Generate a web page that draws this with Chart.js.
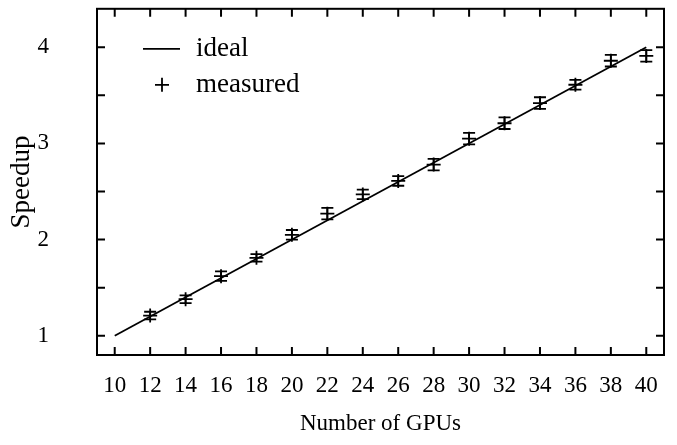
<!DOCTYPE html>
<html>
<head>
<meta charset="utf-8">
<style>
  html, body { margin: 0; padding: 0; background: #fff; }
  #wrap { width: 677px; height: 445px; }
</style>
</head>
<body>
<div id="wrap"><canvas id="speedupChart" width="677" height="445"></canvas></div>

<script src="https://cdn.jsdelivr.net/npm/chart.js"></script>
<script>
    // data
    const gpuCounts = [12, 14, 16, 18, 20, 22, 24, 26, 28, 30, 32, 34, 36, 38, 40];
    const measuredSpeedup = [1.21, 1.38, 1.62, 1.81, 2.05, 2.27, 2.47, 2.61, 2.78, 3.05, 3.21, 3.42, 3.61, 3.86, 3.91];
    const measuredError = [0.04, 0.04, 0.05, 0.04, 0.05, 0.06, 0.05, 0.05, 0.06, 0.06, 0.06, 0.06, 0.05, 0.06, 0.06];
    const idealGpus = [10, 40];
    const idealSpeedup = [1, 4];
    const xTickValues = [10, 12, 14, 16, 18, 20, 22, 24, 26, 28, 30, 32, 34, 36, 38, 40];
    const yTickValues = [1, 1.5, 2, 2.5, 3, 3.5, 4];
    const yLabelValues = [1, 2, 3, 4];

    const FONT = 'Liberation Serif';
    const INK = '#000';

    // error bars for the measured series
    const errorBarPlugin = {
        id: 'errorBars',
        afterDatasetsDraw(chart) {
            const {ctx, scales: {x, y}} = chart;
            ctx.save();
            ctx.strokeStyle = INK;
            ctx.lineWidth = 1.8;
            gpuCounts.forEach((g, i) => {
                const px = x.getPixelForValue(g);
                const top = y.getPixelForValue(measuredSpeedup[i] + measuredError[i]);
                const bot = y.getPixelForValue(measuredSpeedup[i] - measuredError[i]);
                ctx.beginPath();
                ctx.moveTo(px, top); ctx.lineTo(px, bot);
                ctx.moveTo(px - 6, top); ctx.lineTo(px + 6, top);
                ctx.moveTo(px - 6, bot); ctx.lineTo(px + 6, bot);
                ctx.stroke();
            });
            ctx.restore();
        }
    };

    // gnuplot style frame with inward ticks on all four sides, plus the legend
    const framePlugin = {
        id: 'frame',
        afterDraw(chart) {
            const {ctx, chartArea: a, scales: {x, y}} = chart;
            const tl = 8;
            ctx.save();
            ctx.strokeStyle = INK;
            ctx.lineWidth = 2;
            ctx.strokeRect(a.left, a.top, a.right - a.left, a.bottom - a.top);
            ctx.beginPath();
            xTickValues.forEach(v => {
                const px = x.getPixelForValue(v);
                ctx.moveTo(px, a.bottom); ctx.lineTo(px, a.bottom - tl);
                ctx.moveTo(px, a.top); ctx.lineTo(px, a.top + tl);
            });
            yTickValues.forEach(v => {
                const py = y.getPixelForValue(v);
                ctx.moveTo(a.left, py); ctx.lineTo(a.left + tl, py);
                ctx.moveTo(a.right, py); ctx.lineTo(a.right - tl, py);
            });
            ctx.stroke();

            // legend
            const lx = a.left + 46, ly1 = a.top + 40, ly2 = a.top + 76;
            ctx.lineWidth = 1.8;
            ctx.beginPath();
            ctx.moveTo(lx, ly1); ctx.lineTo(lx + 37, ly1);
            ctx.moveTo(lx + 12, ly2); ctx.lineTo(lx + 26, ly2);
            ctx.moveTo(lx + 19, ly2 - 7); ctx.lineTo(lx + 19, ly2 + 7);
            ctx.stroke();
            ctx.fillStyle = INK;
            ctx.font = '27px "' + FONT + '"';
            ctx.textBaseline = 'middle';
            ctx.textAlign = 'left';
            ctx.fillText('ideal', lx + 53, ly1);
            ctx.fillText('measured', lx + 53, ly2);
            ctx.restore();
        }
    };

    function initSpeedupChart() {
        const ctx = document.getElementById('speedupChart');
        new Chart(ctx.getContext('2d'), {
            type: 'scatter',
            data: {
                datasets: [
                    {
                        label: 'ideal',
                        type: 'line',
                        data: idealGpus.map((g, i) => ({x: g, y: idealSpeedup[i]})),
                        borderColor: INK,
                        borderWidth: 1.8,
                        pointRadius: 0,
                        tension: 0,
                        fill: false
                    },
                    {
                        label: 'measured',
                        data: gpuCounts.map((g, i) => ({x: g, y: measuredSpeedup[i]})),
                        pointStyle: 'cross',
                        pointRadius: 7,
                        borderColor: INK,
                        borderWidth: 1.8,
                        backgroundColor: INK
                    }
                ]
            },
            options: {
                responsive: false,
                animation: false,
                devicePixelRatio: 1,
                layout: { padding: { top: 4, right: 13, left: 0, bottom: 0 } },
                plugins: {
                    legend: { display: false },
                    tooltip: { enabled: false }
                },
                scales: {
                    x: {
                        type: 'linear',
                        min: 9,
                        max: 41,
                        afterBuildTicks: s => { s.ticks = xTickValues.map(v => ({value: v})); },
                        afterFit: s => { s.height = 90; s.paddingLeft = 0; s.paddingRight = 0; },
                        grid: { display: false, drawTicks: false },
                        border: { display: false },
                        ticks: {
                            autoSkip: false,
                            maxRotation: 0,
                            padding: 17,
                            color: INK,
                            font: { family: FONT, size: 23 }
                        },
                        title: {
                            display: true,
                            text: 'Number of GPUs',
                            color: INK,
                            font: { family: FONT, size: 23 },
                            padding: { top: 0, bottom: 7 }
                        }
                    },
                    y: {
                        min: 0.8,
                        max: 4.4,
                        afterBuildTicks: s => { s.ticks = yTickValues.map(v => ({value: v})); },
                        afterFit: s => { s.width = 97; s.paddingTop = 0; s.paddingBottom = 0; },
                        grid: { display: false, drawTicks: false },
                        border: { display: false },
                        ticks: {
                            padding: 48,
                            color: INK,
                            font: { family: FONT, size: 23 },
                            callback: v => yLabelValues.includes(v) ? String(v) : ''
                        },
                        title: {
                            display: true,
                            text: 'Speedup',
                            color: INK,
                            font: { family: FONT, size: 27 },
                            padding: { top: 6, bottom: 0 }
                        }
                    }
                }
            },
            plugins: [errorBarPlugin, framePlugin]
        });
    }

    document.addEventListener('DOMContentLoaded', initSpeedupChart);
</script>
</body>
</html>
